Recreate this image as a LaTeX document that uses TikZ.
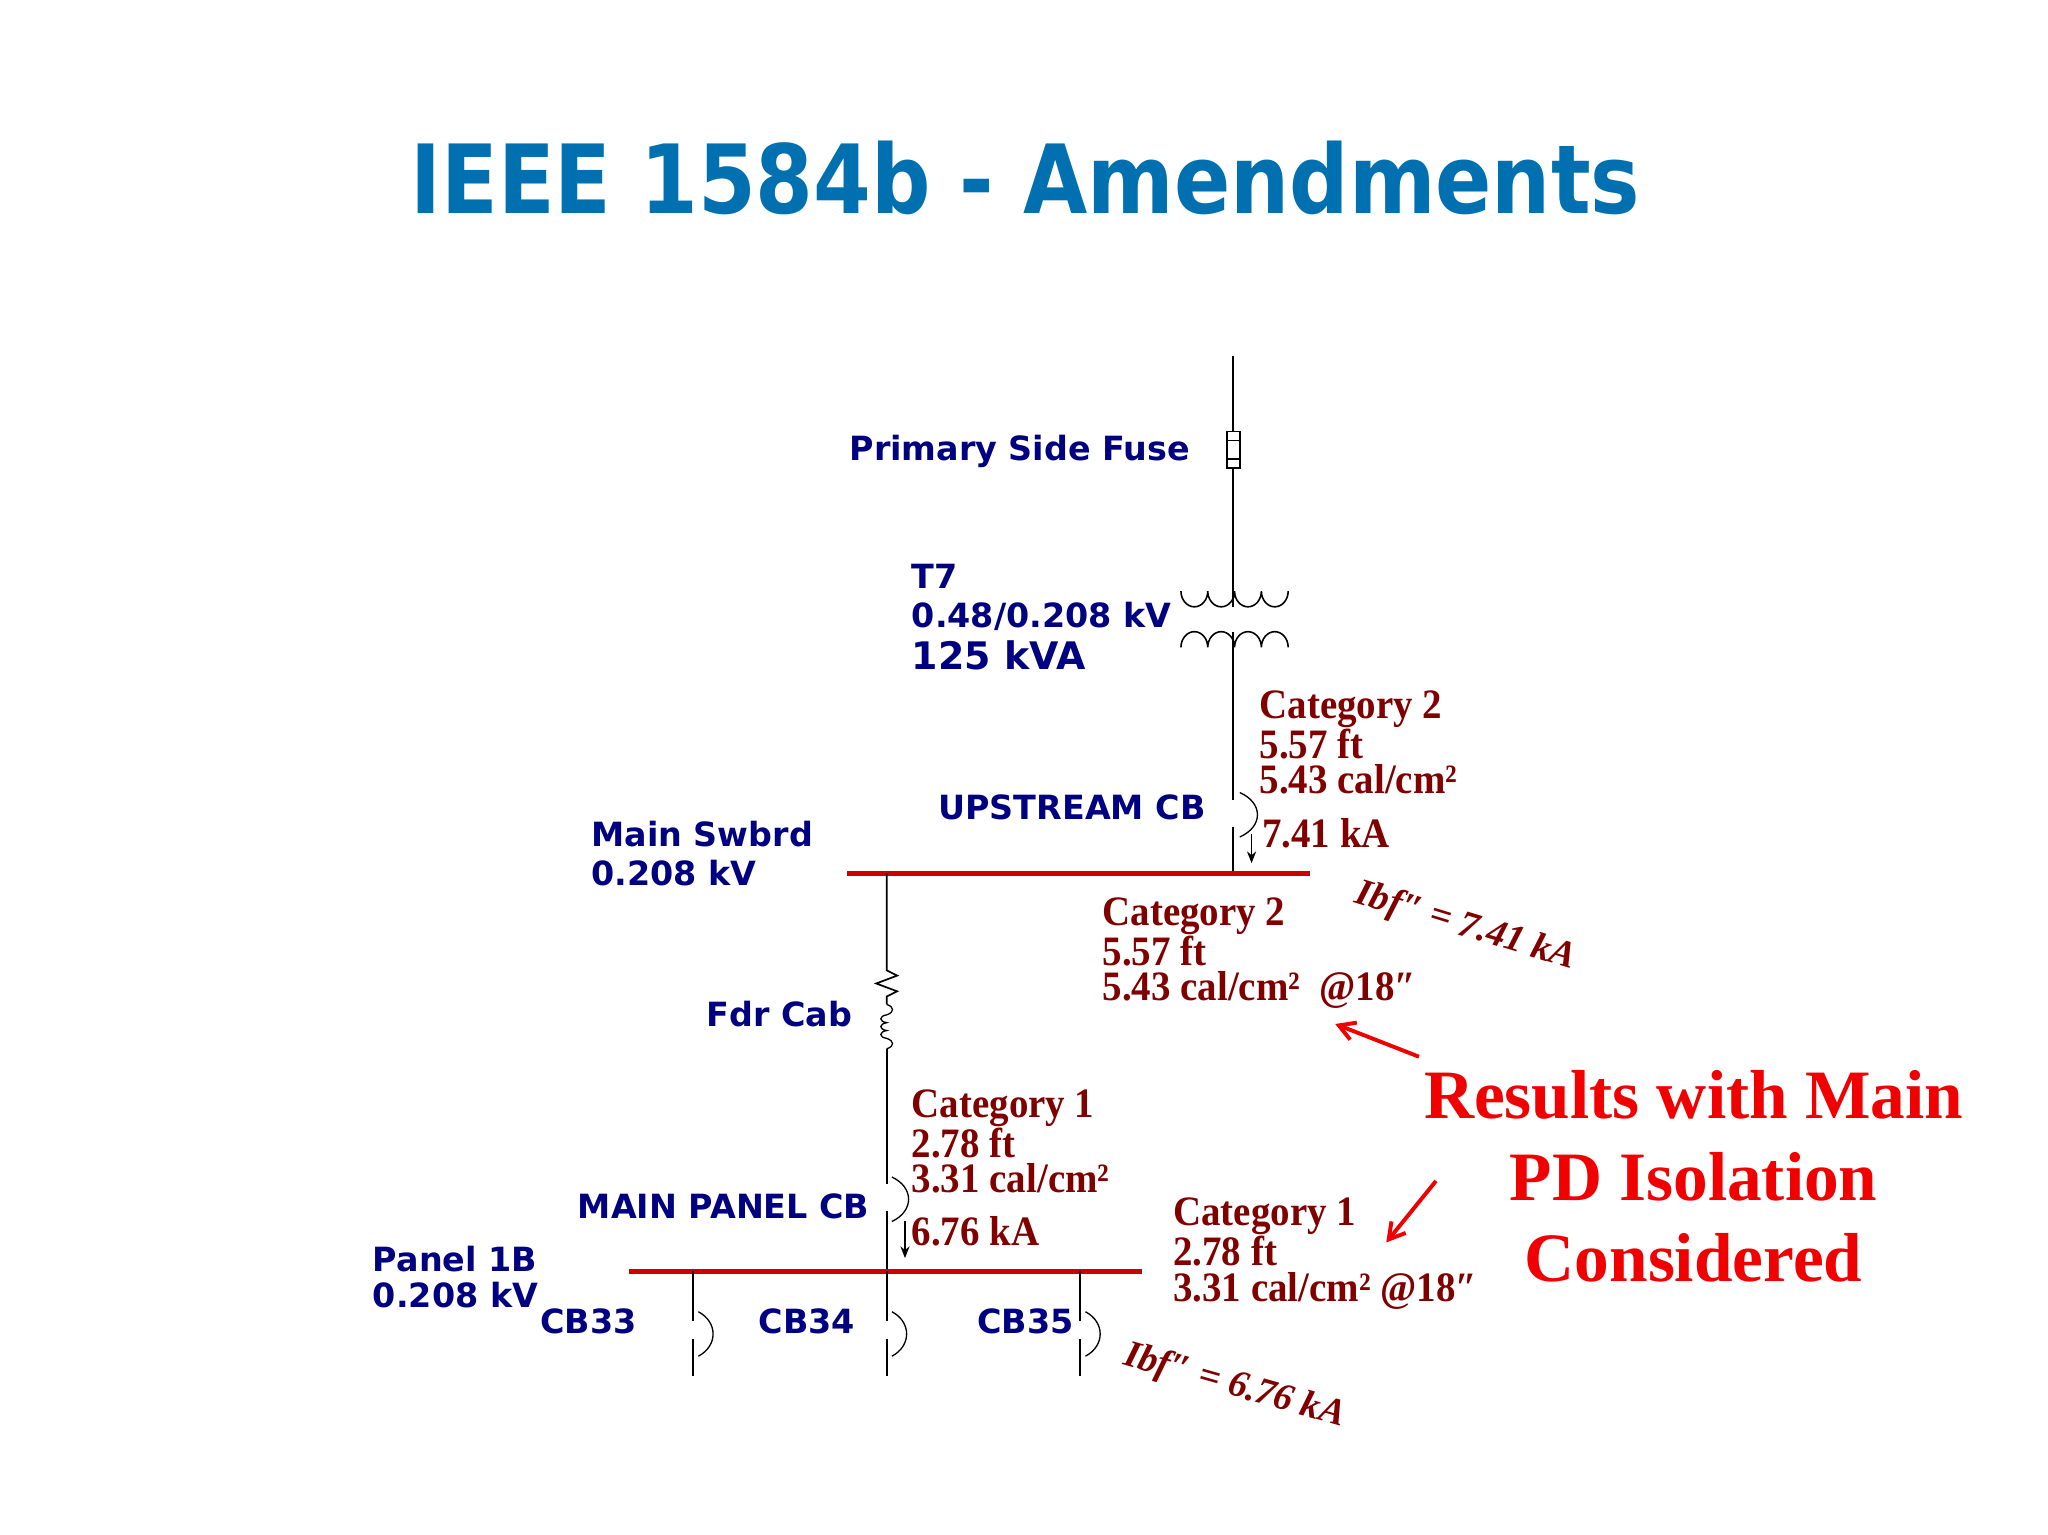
\documentclass[tikz,border=0pt]{standalone}
\usepackage{fontspec}
\setmainfont{Liberation Serif}
\newfontfamily\vfont{DejaVu Sans}
\newcommand{\dq}{″}
\usetikzlibrary{arrows.meta}
\definecolor{ttl}{RGB}{0,112,176}
\definecolor{navy}{RGB}{0,0,128}
\definecolor{dred}{RGB}{128,0,0}
\definecolor{bred}{RGB}{204,0,0}
\definecolor{rred}{RGB}{240,0,0}
\begin{document}
\begin{tikzpicture}[x=1pt,y=-1pt,
  wire/.style={line width=1.3pt,black},
  bus/.style={line width=4pt,bred},
  blab/.style={font=\vfont\bfseries\fontsize{25.5}{30}\selectfont,text=navy,inner sep=0},
  rlab/.style={font=\bfseries\fontsize{32}{27}\selectfont,text=dred,inner sep=0,align=left,xscale=0.93},
  ilab/.style={font=\itshape\bfseries\fontsize{29}{30}\selectfont,text=dred,inner sep=0},
  big/.style={font=\bfseries\fontsize{53}{63}\selectfont,text=rred,inner sep=0,align=center},
  tip/.style={-{Stealth[length=9pt,width=7pt]},line width=1pt}]
\useasboundingbox (0,0) rectangle (1566,1173);
\node[font=\vfont\bfseries\fontsize{73}{80}\selectfont,text=ttl,anchor=base,inner sep=0,xscale=0.87] (title) at (784,163) {IEEE 1584b - Amendments};
% main feeder
\coordinate (top) at (943,272);
\node[draw,line width=1.2pt,minimum width=10pt,minimum height=28pt,inner sep=0] (fuse) at (943,344) {};
\draw[line width=1pt] (938,337)--(948,337) (938,351)--(948,351);
\draw[wire] (top)--(fuse.north);
\coordinate (tp) at (943,464);
\draw[wire] (fuse.south)--(tp);
\draw[line width=1.2pt] (903,452) arc[start angle=180,end angle=0,x radius=10.25,y radius=12] arc[start angle=180,end angle=0,x radius=10.25,y radius=12] arc[start angle=180,end angle=0,x radius=10.25,y radius=12] arc[start angle=180,end angle=0,x radius=10.25,y radius=12];
\draw[line width=1.2pt] (903,495) arc[start angle=180,end angle=360,x radius=10.25,y radius=12] arc[start angle=180,end angle=360,x radius=10.25,y radius=12] arc[start angle=180,end angle=360,x radius=10.25,y radius=12] arc[start angle=180,end angle=360,x radius=10.25,y radius=12];
\coordinate (bp) at (943,483);
\coordinate (cb1a) at (943,612);
\coordinate (cb1b) at (943,632);
\coordinate (bus1p) at (943,668);
\draw[wire] (bp)--(cb1a) (cb1b)--(bus1p);
\draw[line width=1pt] (948,606) .. controls (966,614) and (966,632) .. (948,640);
\coordinate (ar1) at (957,638);
\coordinate (ar1e) at (957,660);
\draw[tip] (ar1)--(ar1e);
\coordinate (b1l) at (648,668);
\coordinate (b1r) at (1002,668);
\draw[bus] (b1l)--(b1r);
% feeder cable
\coordinate (f0) at (678,668);
\draw[wire] (f0)--(678,742)--(686,746)--(670,752)--(686,758)--(678,762)--(678,768);
\draw[line width=1pt] (678,768) .. controls (684,770) and (684,774) .. (678,776)
  .. controls (672,777) and (672,781) .. (678,782) .. controls (672,783) and (672,787) .. (678,788)
  .. controls (672,789) and (672,793) .. (678,794) .. controls (684,796) and (684,800) .. (678,802);
\coordinate (cb2a) at (678,905);
\coordinate (cb2b) at (678,926);
\coordinate (bus2p) at (678,972);
\draw[wire] (678,802)--(cb2a) (cb2b)--(bus2p);
\draw[line width=1pt] (682,900) .. controls (699,908) and (699,926) .. (682,934);
\coordinate (ar2) at (692,934);
\coordinate (ar2e) at (692,962);
\draw[tip] (ar2)--(ar2e);
\coordinate (b2l) at (481,972);
\coordinate (b2r) at (873,972);
\draw[bus] (b2l)--(b2r);
\foreach \x in {530,678,826}{
  \draw[wire] (\x,972)--(\x,1010) (\x,1024)--(\x,1052);
  \draw[line width=1pt] (\x+4,1003) .. controls (\x+19,1011) and (\x+19,1029) .. (\x+4,1037);
}
% blue labels
\node[blab,anchor=base east] (psf) at (910,352) {Primary Side Fuse};
\node[blab,anchor=base west] (t7) at (697,450) {T7};
\node[blab,anchor=base west] (t7v) at (697,480) {0.48/0.208 kV};
\node[blab,anchor=base west,font=\vfont\bfseries\fontsize{29}{30}\selectfont] (t7s) at (697,512) {125 kVA};
\node[blab,anchor=base east] (ucb) at (922,627) {UPSTREAM CB};
\node[blab,anchor=base west] (ms) at (452,647) {Main Swbrd};
\node[blab,anchor=base west] (msv) at (452,677) {0.208 kV};
\node[blab,anchor=base west] (fdr) at (540,785) {Fdr Cab};
\node[blab,anchor=base east] (mpcb) at (665,932) {MAIN PANEL CB};
\node[blab,anchor=base west] (p1b) at (285,972) {Panel 1B};
\node[blab,anchor=base west] (p1bv) at (285,1000) {0.208 kV};
\node[blab,anchor=base west] (cb33) at (413,1020) {CB33};
\node[blab,anchor=base west] (cb34) at (580,1020) {CB34};
\node[blab,anchor=base west] (cb35) at (747,1020) {CB35};
% red results
\node[rlab,anchor=north west] (r1) at (963,528) {Category 2\\5.57 ft\\5.43 cal/cm²};
\node[rlab,anchor=base west] (r1k) at (965,648) {7.41 kA};
\node[rlab,anchor=north west] (r2) at (843,686) {Category 2\\5.57 ft\\5.43 cal/cm²\ \ @18\dq};
\node[rlab,anchor=north west] (r3) at (697,833) {Category 1\\2.78 ft\\3.31 cal/cm²};
\node[rlab,anchor=base west] (r3k) at (697,952) {6.76 kA};
\node[rlab,anchor=north west] (r4) at (897,916) {Category 1\\2.78 ft\\3.31 cal/cm² @18\dq};
\node[ilab,rotate=-17,anchor=base west] (ibf1) at (1035,690) {Ibf\dq\ = 7.41 kA};
\node[ilab,rotate=-16,anchor=base west] (ibf2) at (858,1043) {Ibf\dq\ = 6.76 kA};
\node[big,anchor=base] (res1) at (1295,855) {Results with Main};
\node[big,anchor=base] (res2) at (1295,918) {PD Isolation};
\node[big,anchor=base] (res3) at (1295,980) {Considered};
\coordinate (a1s) at (1085,808);
\coordinate (a1e) at (1021,783);
\coordinate (a2s) at (1098,903);
\coordinate (a2e) at (1060,950);
\draw[-{Straight Barb[length=12pt,width=14pt]},line width=3pt,rred] (a1s)--(a1e);
\draw[-{Straight Barb[length=12pt,width=14pt]},line width=3pt,rred] (a2s)--(a2e);
\end{tikzpicture}
\end{document}
